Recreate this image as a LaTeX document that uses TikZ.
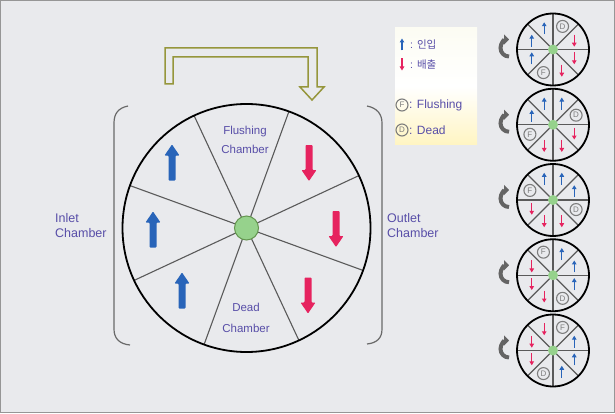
\documentclass[tikz,border=0pt]{standalone}
\usepackage{fontspec}
\setmainfont{Liberation Sans}
\newfontfamily\krfont{Noto Sans CJK KR}
\usetikzlibrary{arrows.meta}
\definecolor{bg}{RGB}{233,234,237}
\definecolor{framegray}{RGB}{150,150,150}
\definecolor{lbl}{RGB}{88,78,168}
\definecolor{inblue}{RGB}{40,100,185}
\definecolor{outred}{RGB}{230,35,95}
\definecolor{arrowolive}{RGB}{150,150,60}
\definecolor{hubgreen}{RGB}{150,210,140}
\definecolor{hubedge}{RGB}{100,150,80}
\definecolor{spokegray}{RGB}{90,90,90}
\definecolor{markgray}{RGB}{125,125,125}
\definecolor{bracketgray}{RGB}{105,105,105}
\definecolor{curvegray}{RGB}{100,100,100}
\definecolor{legtop}{RGB}{252,252,243}
\definecolor{legbot}{RGB}{255,245,195}
\begin{document}
\begin{tikzpicture}[x=1pt,y=1pt,
  lbltext/.style={text=lbl, inner sep=0pt},
  bigarrow/.pic={\fill[#1, rounded corners=0.8pt] (-3.5,-18) -- (-3.5,7) -- (-7.5,7) -- (0,18) -- (7.5,7) -- (3.5,7) -- (3.5,-18) -- cycle;},
  smallarrow/.pic={\draw[#1, line width=1.1pt, -{Triangle[length=4pt,width=4.5pt]}] (0,-6) -- (0,6);},
  cletter/.pic={\draw[markgray, line width=1.1pt] (0,0) circle (6);
                \node[text=markgray, inner sep=0pt, font=\fontsize{8}{8}\selectfont] (-t) at (0,0) {#1};},
  curvearrow/.style={curvegray, line width=4pt, -{Triangle[length=5pt,width=10pt]}}
]
\useasboundingbox (0,0) rectangle (615,413);
\fill[bg] (0,0) rectangle (615,413);
\draw[framegray, line width=1pt] (0.5,0.5) rectangle (614.5,412.5);

% hollow olive bent arrow
\draw[arrowolive, line width=1.5pt, line join=miter]
  (165,329) -- (165,365) -- (317,365) -- (317,326) -- (324,326) -- (312,313)
  -- (300,326) -- (308,326) -- (308,356) -- (173,356) -- (173,329) -- cycle;

% brackets
\draw[bracketgray, line width=1.2pt] (128,307) .. controls (118,305) and (114,299) .. (114,290)
  -- (114,84) .. controls (114,75) and (119,69) .. (130,68);
\draw[bracketgray, line width=1.2pt] (367,307) .. controls (377,305) and (382,299) .. (382,290)
  -- (382,84) .. controls (382,75) and (377,70) .. (367,69);

% big wheel
\begin{scope}[shift={(246.5,185)}]
  \foreach \a in {25,70,...,340} \draw[spokegray, line width=1.1pt] (0,0) -- (\a:124);
  \draw[line width=1.8pt] (0,0) circle (124);
\end{scope}
\node[circle, draw=hubedge, fill=hubgreen, line width=1pt, minimum size=24pt, inner sep=0pt] (hub) at (246.5,185) {};

\pic at (172,250.5) {bigarrow=inblue};
\pic at (153,183.5) {bigarrow=inblue};
\pic at (182,122.5) {bigarrow=inblue};
\pic[rotate=180] at (309,250) {bigarrow=outred};
\pic[rotate=180] at (336,184) {bigarrow=outred};
\pic[rotate=180] at (308,117.5) {bigarrow=outred};

\node[lbltext, anchor=base, font=\fontsize{11.5}{13}\selectfont] (fl1) at (245,279) {Flushing};
\node[lbltext, anchor=base, font=\fontsize{11.5}{13}\selectfont] (fl2) at (245,259) {Chamber};
\node[lbltext, anchor=base, font=\fontsize{11.5}{13}\selectfont] (dd1) at (246,102) {Dead};
\node[lbltext, anchor=base, font=\fontsize{11.5}{13}\selectfont] (dd2) at (246,81) {Chamber};

\node[lbltext, anchor=base west, font=\fontsize{12.5}{14}\selectfont] (in1) at (55,191) {Inlet};
\node[lbltext, anchor=base west, font=\fontsize{12.5}{14}\selectfont] (in2) at (55,176) {Chamber};
\node[lbltext, anchor=base west, font=\fontsize{12.5}{14}\selectfont] (out1) at (387,191) {Outlet};
\node[lbltext, anchor=base west, font=\fontsize{12.5}{14}\selectfont] (out2) at (387,176) {Chamber};

% legend
\shade[top color=legtop, bottom color=legbot, middle color=white] (395,269) rectangle (477,385);
\pic at (402,368.5) {smallarrow=inblue};
\pic[rotate=180] at (402,348.5) {smallarrow=outred};
\pic (lf) at (402,308) {cletter=F};
\pic (ld) at (402,283) {cletter=D};
\node[lbltext, anchor=base west, font=\fontsize{10.5}{12}\selectfont] (lg1) at (410,364) {: {\krfont 인입}};
\node[lbltext, anchor=base west, font=\fontsize{10.5}{12}\selectfont] (lg2) at (410,344) {: {\krfont 배출}};
\node[lbltext, anchor=base west, font=\fontsize{12}{13}\selectfont] (lg3) at (409,304) {: Flushing};
\node[lbltext, anchor=base west, font=\fontsize{12}{13}\selectfont] (lg4) at (409,279) {: Dead};

% small wheels
\foreach \k in {0,...,4} {
  \pgfmathsetmacro\cy{363.5-75.25*\k}
  \pgfmathsetmacro\dd{67.5-45*\k}
  \begin{scope}[shift={(553,\cy)}]
    \foreach \a in {0,45,...,315} \draw[spokegray, line width=1.3pt] (0,0) -- (\a:36);
    \draw[line width=1.8pt] (0,0) circle (36);
    \fill[hubgreen] (0,0) circle (5);
    \pic at (\dd:25) {cletter=D};
    \pic at (\dd+180:25) {cletter=F};
    \foreach \j in {1,2,3} {
      \pic at (\dd+45*\j:23) {smallarrow=inblue};
      \pic[rotate=180] at (\dd-45*\j:23) {smallarrow=outred};
    }
  \end{scope}
  \draw[curvearrow] (509,\cy-7) arc[start angle=-90, end angle=-270, radius=8.5];
}
\end{tikzpicture}
\end{document}
